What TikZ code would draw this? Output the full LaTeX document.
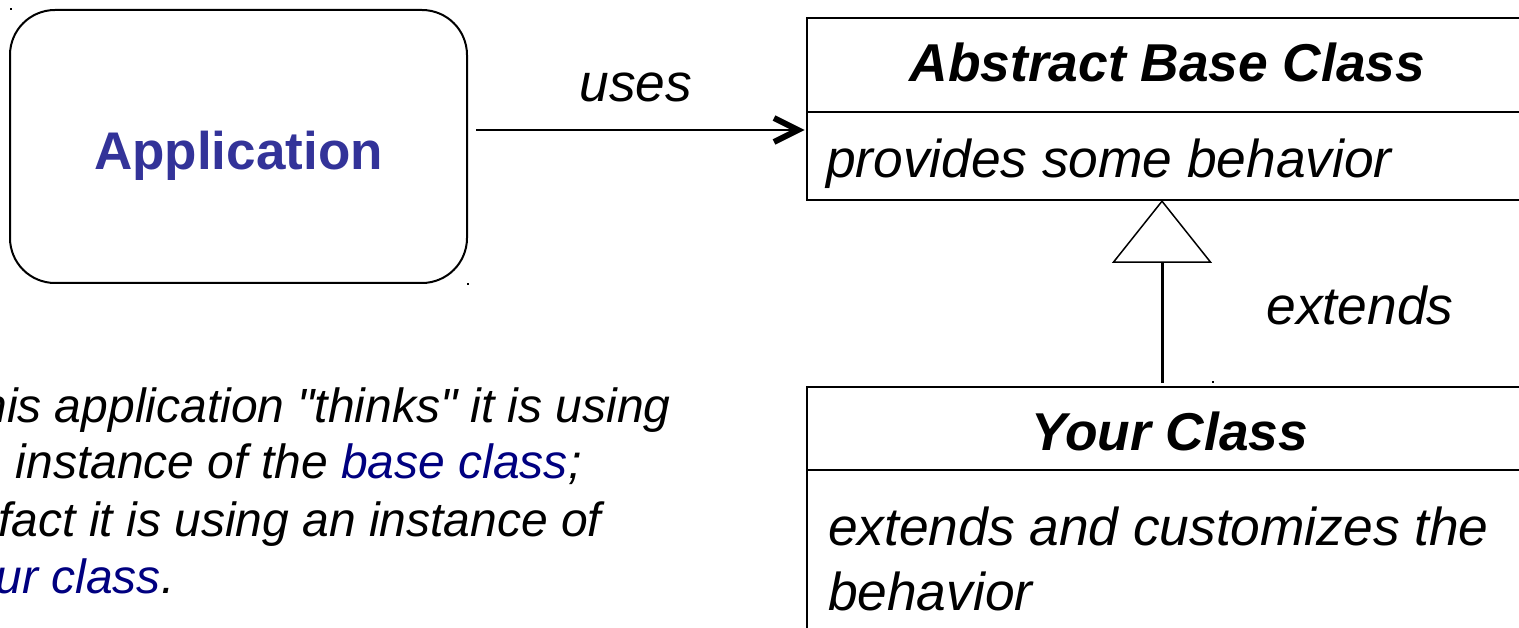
\documentclass[tikz,border=0pt]{standalone}
\usepackage{fontspec}
\setmainfont{Liberation Sans}[Ligatures=TeXOff]
\usetikzlibrary{arrows.meta,calc}
\definecolor{appblue}{HTML}{333399}
\definecolor{notenavy}{HTML}{000080}
\begin{document}
\begin{tikzpicture}[x=1pt,y=-1pt,
  every node/.style={inner sep=0pt, outer sep=0pt},
  boxline/.style={draw=black, line width=2pt},
  titlefont/.style={font=\fontsize{53.3}{60}\selectfont\bfseries\itshape},
  bodyfont/.style={font=\fontsize{53.3}{60}\selectfont\itshape},
  notefont/.style={font=\fontsize{48}{57}\selectfont\itshape},
  classbox/.style={boxline, minimum width=720pt},
  barbhead/.style={line width=6pt, line join=miter, line cap=butt},
  speck/.style={fill=black}]

\useasboundingbox (0,0) rectangle (1519,628);
\clip (0,0) rectangle (1519,628);

% application box
\node[boxline, rounded corners=45pt, minimum width=457pt, minimum height=273pt,
      text height=47pt, text depth=0pt,
      font=\fontsize{53}{60}\selectfont\bfseries, text=appblue] (app) at (238.5,146.5) {Application};

% abstract base class
\node[classbox, minimum height=182pt] (abs) at (1167,109) {};
\coordinate (absdiv) at (0,112);
\draw[line width=2pt] (abs.west |- absdiv) -- (abs.east |- absdiv);
\node[titlefont, anchor=base] (abstitle) at (1167.5,82) {Abstract Base Class};
\node[bodyfont, anchor=base west] (absbody) at (826,178) {provides some behavior};

% derived class
\node[classbox, minimum height=320pt] (yours) at (1167,547) {};
\coordinate (yoursdiv) at (0,470);
\draw[line width=2pt] (yours.west |- yoursdiv) -- (yours.east |- yoursdiv);
\node[titlefont, anchor=base] (yourstitle) at (1170,450) {Your Class};
\node[bodyfont, anchor=base west] (yoursbody1) at (828,545) {extends and customizes the};
\node[bodyfont, anchor=base west] (yoursbody2) at (828,610) {behavior};

% uses association with an open barbed head
\coordinate (usesstart) at (476,130);
\coordinate (usestip) at ($(usesstart -| abs.west)+(-9,0)$);
\draw[line width=1.5pt] (usesstart) -- (usestip);
\draw[barbhead] ($(usestip)+(-24,-12)$) -- (usestip) -- ($(usestip)+(-24,12)$);
\node[bodyfont, anchor=base] (useslbl) at (636,102) {uses};

% generalisation
\coordinate (inhstart) at (1162,383);
\draw[line width=3pt,
      -{Triangle[fill=white, length=63pt, width=100pt, line width=1.5pt]}]
  (inhstart) -- (inhstart |- abs.south);
\node[bodyfont, anchor=base] (extlbl) at (1360,325) {extends};

% explanatory note
\node[notefont, anchor=base west] (note1) at (-49,423) {This application "thinks" it is using};
\node[notefont, anchor=base west] (note2) at (-51,478) {an instance of the \textcolor{notenavy}{base class};};
\node[notefont, anchor=base west] (note3) at (-55,536) {In fact it is using an instance of};
\node[notefont, anchor=base west] (note4) at (-55,593) {\textcolor{notenavy}{your class}.};

% selection specks
\fill[speck] (10,8) rectangle (12,10);
\fill[speck] (467,283) rectangle (469,285);
\fill[speck] (1212,381) rectangle (1214,383);
\end{tikzpicture}
\end{document}
